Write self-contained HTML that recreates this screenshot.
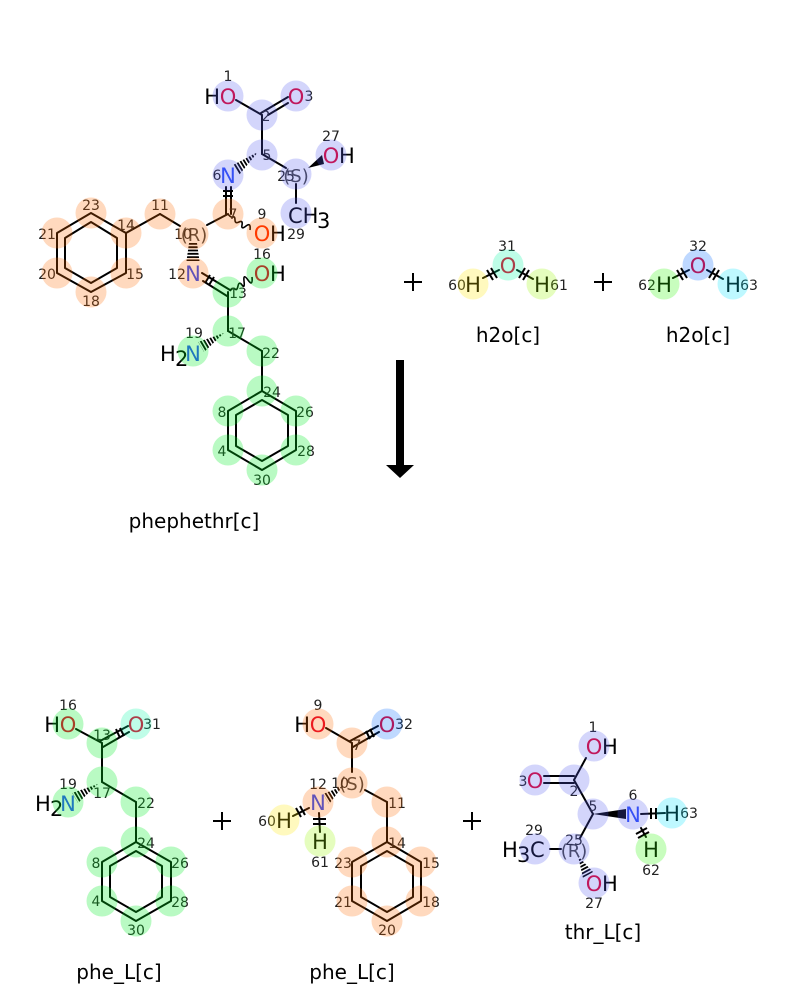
<!DOCTYPE html>
<html>
<head>
<meta charset="utf-8">
<style>
html,body{margin:0;padding:0;background:#fff}
svg{display:block}
text{font-family:"DejaVu Sans","Liberation Sans",sans-serif}
.b line,.b polyline,.b polygon.r{stroke:#000;stroke-width:2;fill:none;stroke-linecap:round;stroke-linejoin:round}
.b path{stroke:#000;stroke-width:1.6;fill:none}
.t line{stroke:#000;stroke-width:2}
.a text{font-size:21px}
.o{fill:#e6002a}
.n{fill:#2c4cf8}
.k{fill:#000}
.i text{font-size:14px;fill:#222;text-anchor:middle}
.s text{font-size:18px;fill:#444;text-anchor:middle}
.m{text-anchor:middle}
.e{text-anchor:end}
.l text{font-size:20px;fill:#000;text-anchor:middle}
</style>
</head>
<body>
<svg width="800" height="1000" viewBox="0 0 800 1000" xmlns="http://www.w3.org/2000/svg">
<defs>
<clipPath id="h1"><polygon points="258,152 239,175 233,165"/></clipPath>
<clipPath id="h2"><polygon points="189,243 197,243 199.5,261 186.5,261"/></clipPath>
<clipPath id="h3"><polygon points="224,333 204,352 198,342"/></clipPath>
<clipPath id="h4"><polygon points="98,784 78,803 72,793"/></clipPath>
<clipPath id="h5"><polygon points="343,786 329,804 323,794"/></clipPath>
<clipPath id="h6"><polygon points="578,856 593,872 583,878"/></clipPath>
</defs>

<!-- bonds -->
<g class="b">
<!-- phephethr -->
<line x1="236" y1="100" x2="262" y2="115"/>
<line x1="261" y1="113" x2="288" y2="97"/>
<line x1="268" y1="115" x2="288" y2="103"/>
<line x1="262" y1="115" x2="262" y2="154"/>
<line x1="262" y1="154" x2="286" y2="168"/>
<line x1="296" y1="184" x2="296" y2="203"/>
<line x1="226" y1="187" x2="226" y2="214"/>
<line x1="231" y1="187" x2="231" y2="214"/>
<line x1="207" y1="225" x2="228" y2="214"/>
<line x1="160" y1="214" x2="180" y2="226"/>
<line x1="126" y1="233" x2="160" y2="214"/>
<polygon class="r" points="126,233 91,213 57,233 57,273 91,292 126,273"/>
<polygon class="r" points="117,238 91,222 65,238 65,268 91,283 117,268"/>
<line x1="202" y1="273" x2="230" y2="290"/>
<line x1="203" y1="281" x2="227" y2="296"/>
<line x1="228" y1="292" x2="228" y2="331"/>
<line x1="228" y1="331" x2="262" y2="351"/>
<line x1="262" y1="351" x2="262" y2="391"/>
<polygon class="r" points="262,391 296,411 296,450 262,470 228,450 228,411"/>
<polygon class="r" points="262,400 288,415 288,446 262,461 236,446 236,415"/>
<path d="M228 214q3 4 5 3t2 3 4 2 3 3 4 1 4 4"/>
<path d="M230 291q3 -4 5 -2t3 -3 4 -1 2 -4 4 -1 4 -3"/>
<!-- water -->
<line x1="483" y1="278" x2="499" y2="270"/>
<line x1="517" y1="270" x2="533" y2="279"/>
<line x1="673" y1="278" x2="689" y2="270"/>
<line x1="707" y1="270" x2="723" y2="279"/>
<!-- phe left -->
<line x1="76" y1="729" x2="102" y2="743"/>
<line x1="100" y1="741" x2="128" y2="726"/>
<line x1="103" y1="747" x2="129" y2="732"/>
<line x1="102" y1="743" x2="102" y2="782"/>
<line x1="102" y1="782" x2="136" y2="802"/>
<line x1="136" y1="802" x2="136" y2="842"/>
<polygon class="r" points="136,842 171,862 171,901 136,921 102,901 102,862"/>
<polygon class="r" points="136,851 162,866 162,897 136,912 110,897 110,866"/>
<!-- phe middle -->
<line x1="326" y1="728" x2="352" y2="743"/>
<line x1="350" y1="741" x2="378" y2="726"/>
<line x1="353" y1="747" x2="379" y2="732"/>
<line x1="352" y1="743" x2="352" y2="772"/>
<line x1="365" y1="790" x2="387" y2="802"/>
<line x1="387" y1="802" x2="387" y2="842"/>
<polygon class="r" points="387,842 421,862 421,901 387,921 352,901 352,862"/>
<polygon class="r" points="387,851 413,866 413,897 387,912 361,897 361,866"/>
<line x1="309" y1="808" x2="293" y2="816"/>
<line x1="319" y1="813" x2="320" y2="832"/>
<!-- thr -->
<line x1="574" y1="780" x2="586" y2="758"/>
<line x1="544" y1="776" x2="574" y2="776"/>
<line x1="544" y1="783" x2="574" y2="783"/>
<line x1="574" y1="780" x2="593" y2="814"/>
<line x1="593" y1="814" x2="580" y2="838"/>
<line x1="550" y1="849" x2="561" y2="849"/>
<line x1="641" y1="814" x2="665" y2="813"/>
<line x1="641" y1="828" x2="646" y2="837"/>
</g>

<!-- ticks -->
<g class="t">
<line x1="223" y1="191" x2="233" y2="191"/><line x1="223" y1="196" x2="233" y2="196"/>
<line x1="205" y1="283" x2="210" y2="275"/><line x1="209" y1="285" x2="214" y2="277"/>
<line x1="487" y1="270" x2="493" y2="280"/><line x1="491" y1="268" x2="497" y2="278"/>
<line x1="525" y1="268" x2="519" y2="278"/><line x1="529" y1="270" x2="523" y2="280"/>
<line x1="677" y1="270" x2="683" y2="280"/><line x1="681" y1="268" x2="687" y2="278"/>
<line x1="715" y1="268" x2="709" y2="278"/><line x1="719" y1="270" x2="713" y2="280"/>
<line x1="116" y1="729" x2="120" y2="738"/><line x1="120" y1="728" x2="124" y2="736"/>
<line x1="366" y1="731" x2="370" y2="739"/><line x1="370" y1="729" x2="374" y2="737"/>
<line x1="296" y1="808" x2="301" y2="817"/><line x1="300" y1="806" x2="305" y2="815"/>
<line x1="313" y1="819" x2="326" y2="819"/><line x1="313" y1="824" x2="326" y2="824"/>
<line x1="651" y1="808" x2="651" y2="819"/><line x1="656" y1="808" x2="656" y2="819"/>
<line x1="636" y1="834" x2="647" y2="828"/><line x1="638" y1="838" x2="649" y2="832"/>
</g>

<!-- solid wedges -->
<polygon points="308,168 322,155 324,164" fill="#000"/>
<polygon points="593,814 626,809 626,819" fill="#000"/>

<!-- hashed wedges -->
<g fill="none" stroke="#000" stroke-width="14" stroke-dasharray="1.8 1.5">
<line x1="258" y1="156.5" x2="236" y2="170" clip-path="url(#h1)"/>
<line x1="193" y1="243" x2="193" y2="261" clip-path="url(#h2)"/>
<line x1="224" y1="333.5" x2="201" y2="347" clip-path="url(#h3)"/>
<line x1="98" y1="784.5" x2="75" y2="798" clip-path="url(#h4)"/>
<line x1="343" y1="788.5" x2="326" y2="799" clip-path="url(#h5)"/>
<line x1="578" y1="856" x2="588" y2="875" clip-path="url(#h6)"/>
</g>

<!-- arrow and plus signs -->
<rect x="396" y="360" width="8" height="106" fill="#000"/>
<polygon points="386,465 414,465 400,478" fill="#000"/>
<g stroke="#000" stroke-width="2">
<line x1="404" y1="282" x2="422" y2="282"/><line x1="413" y1="273" x2="413" y2="291"/>
<line x1="594" y1="282" x2="612" y2="282"/><line x1="603" y1="273" x2="603" y2="291"/>
<line x1="213" y1="821" x2="231" y2="821"/><line x1="222" y1="812" x2="222" y2="830"/>
<line x1="463" y1="821" x2="481" y2="821"/><line x1="472" y1="812" x2="472" y2="830"/>
</g>

<!-- atom labels -->
<g class="a">
<text x="228" y="104" class="o m">O</text><text x="220" y="104" class="k e">H</text>
<text x="296" y="104" class="o m">O</text>
<text x="228" y="183" class="n m">N</text>
<text x="331" y="163" class="o m">O</text><text x="339" y="163" class="k">H</text>
<text x="288" y="223" class="k">CH</text><text x="317" y="228" class="k">3</text>
<text x="262" y="241" style="fill:#ff2a00" class="m">O</text><text x="270" y="241" class="k">H</text>
<text x="193" y="281" class="n m">N</text>
<text x="262" y="281" style="fill:#e6002a" class="m">O</text><text x="270" y="281" class="k">H</text>
<text x="193" y="361" class="n m">N</text><text x="160" y="361" class="k">H</text><text x="175" y="366" class="k">2</text>

<text x="508" y="273" class="o m">O</text><text x="473" y="292" class="k m">H</text><text x="542" y="292" class="k m">H</text>
<text x="698" y="273" class="o m">O</text><text x="664" y="292" class="k m">H</text><text x="733" y="292" class="k m">H</text>

<text x="68" y="732" class="o m">O</text><text x="60" y="732" class="k e">H</text>
<text x="136" y="732" class="o m">O</text>
<text x="68" y="811" class="n m">N</text><text x="35" y="811" class="k">H</text><text x="50" y="816" class="k">2</text>

<text x="318" y="732" class="o m">O</text><text x="310" y="732" class="k e">H</text>
<text x="387" y="732" class="o m">O</text>
<text x="318" y="810" class="n m">N</text>
<text x="284" y="828" class="k m">H</text>
<text x="320" y="849" class="k m">H</text>

<text x="594" y="754" class="o m">O</text><text x="602" y="754" class="k">H</text>
<text x="535" y="788" class="o m">O</text>
<text x="633" y="822" class="n m">N</text>
<text x="672" y="821" class="k m">H</text>
<text x="651" y="857" class="k m">H</text>
<text x="502" y="857" class="k">H</text><text x="517" y="862" class="k">3</text><text x="530" y="857" class="k">C</text>
<text x="594" y="891" class="o m">O</text><text x="602" y="891" class="k">H</text>
</g>

<!-- stereo labels -->
<g class="s">
<text x="296" y="182">(S)</text>
<text x="194" y="241">(R)</text>
<text x="352" y="790">(S)</text>
<text x="574" y="857">(R)</text>
</g>

<!-- index labels -->
<g class="i">
<text x="228" y="81">1</text><text x="266" y="121">2</text><text x="309" y="101">3</text><text x="267" y="160">5</text><text x="217" y="180">6</text><text x="286" y="181">25</text><text x="331" y="141">27</text><text x="296" y="239">29</text><text x="233" y="219">7</text><text x="262" y="219">9</text><text x="183" y="239">10</text><text x="160" y="210">11</text><text x="91" y="210">23</text><text x="126" y="230">14</text><text x="47" y="239">21</text><text x="47" y="279">20</text><text x="91" y="306">18</text><text x="135" y="279">15</text><text x="177" y="279">12</text><text x="262" y="259">16</text><text x="238" y="298">13</text><text x="237" y="338">17</text><text x="194" y="338">19</text><text x="271" y="358">22</text><text x="272" y="397">24</text><text x="222" y="417">8</text><text x="305" y="417">26</text><text x="222" y="456">4</text><text x="306" y="456">28</text><text x="262" y="485">30</text>
<text x="507" y="251">31</text><text x="457" y="290">60</text><text x="559" y="290">61</text>
<text x="698" y="251">32</text><text x="647" y="290">62</text><text x="749" y="290">63</text>
<text x="68" y="710">16</text><text x="102" y="740">13</text><text x="152" y="729">31</text><text x="68" y="789">19</text><text x="102" y="798">17</text><text x="146" y="808">22</text><text x="146" y="848">24</text><text x="96" y="868">8</text><text x="180" y="868">26</text><text x="96" y="906">4</text><text x="180" y="907">28</text><text x="136" y="935">30</text>
<text x="318" y="710">9</text><text x="357" y="750">7</text><text x="404" y="729">32</text><text x="318" y="789">12</text><text x="340" y="788">10</text><text x="397" y="808">11</text><text x="397" y="848">14</text><text x="267" y="826">60</text><text x="320" y="867">61</text><text x="343" y="868">23</text><text x="431" y="868">15</text><text x="343" y="907">21</text><text x="431" y="907">18</text><text x="387" y="935">20</text>
<text x="593" y="732">1</text><text x="523" y="786">3</text><text x="574" y="796">2</text><text x="593" y="811">5</text><text x="633" y="800">6</text><text x="689" y="818">63</text><text x="651" y="875">62</text><text x="534" y="835">29</text><text x="574" y="845">25</text><text x="594" y="908">27</text>
</g>

<!-- names -->
<g class="l">
<text x="194" y="528">phephethr[c]</text>
<text x="508" y="342">h2o[c]</text>
<text x="698" y="342">h2o[c]</text>
<text x="119" y="979">phe_L[c]</text>
<text x="352" y="979">phe_L[c]</text>
<text x="603" y="939">thr_L[c]</text>
</g>

<!-- highlights -->
<g opacity="0.25" fill="#ff6b00">
<circle cx="228" cy="214" r="15.5"/><circle cx="262" cy="233" r="15.5"/><circle cx="193" cy="234" r="15.5"/><circle cx="160" cy="214" r="15.5"/><circle cx="126" cy="233" r="15.5"/><circle cx="91" cy="213" r="15.5"/><circle cx="57" cy="233" r="15.5"/><circle cx="57" cy="273" r="15.5"/><circle cx="91" cy="292" r="15.5"/><circle cx="126" cy="273" r="15.5"/><circle cx="193" cy="273" r="15.5"/>
<circle cx="318" cy="724" r="15.5"/><circle cx="352" cy="743" r="15.5"/><circle cx="352" cy="783" r="15.5"/><circle cx="318" cy="802" r="15.5"/><circle cx="387" cy="802" r="15.5"/><circle cx="387" cy="842" r="15.5"/><circle cx="352" cy="862" r="15.5"/><circle cx="352" cy="901" r="15.5"/><circle cx="387" cy="921" r="15.5"/><circle cx="421" cy="901" r="15.5"/><circle cx="421" cy="862" r="15.5"/>
</g>
<g opacity="0.27" fill="#00f024">
<circle cx="262" cy="273" r="15.5"/><circle cx="228" cy="292" r="15.5"/><circle cx="228" cy="331" r="15.5"/><circle cx="193" cy="351" r="15.5"/><circle cx="262" cy="351" r="15.5"/><circle cx="262" cy="391" r="15.5"/><circle cx="228" cy="411" r="15.5"/><circle cx="296" cy="411" r="15.5"/><circle cx="228" cy="450" r="15.5"/><circle cx="296" cy="450" r="15.5"/><circle cx="262" cy="470" r="15.5"/>
<circle cx="68" cy="724" r="15.5"/><circle cx="102" cy="743" r="15.5"/><circle cx="102" cy="782" r="15.5"/><circle cx="68" cy="802" r="15.5"/><circle cx="136" cy="802" r="15.5"/><circle cx="136" cy="842" r="15.5"/><circle cx="102" cy="862" r="15.5"/><circle cx="102" cy="901" r="15.5"/><circle cx="136" cy="921" r="15.5"/><circle cx="171" cy="901" r="15.5"/><circle cx="171" cy="862" r="15.5"/>
</g>
<g opacity="0.25" fill="#545cf0">
<circle cx="228" cy="96" r="15.5"/><circle cx="262" cy="115" r="15.5"/><circle cx="296" cy="96" r="15.5"/><circle cx="262" cy="155" r="15.5"/><circle cx="228" cy="175" r="15.5"/><circle cx="296" cy="174" r="15.5"/><circle cx="331" cy="155" r="15.5"/><circle cx="296" cy="213" r="15.5"/>
<circle cx="594" cy="746" r="15.5"/><circle cx="574" cy="780" r="15.5"/><circle cx="535" cy="780" r="15.5"/><circle cx="593" cy="814" r="15.5"/><circle cx="633" cy="814" r="15.5"/><circle cx="574" cy="849" r="15.5"/><circle cx="535" cy="849" r="15.5"/><circle cx="594" cy="883" r="15.5"/>
</g>
<g opacity="0.25">
<circle cx="508" cy="265" r="15.5" fill="#00f8a4"/>
<circle cx="136" cy="724" r="15.5" fill="#00f8a4"/>
<circle cx="473" cy="284" r="15.5" fill="#ffe800"/>
<circle cx="284" cy="820" r="15.5" fill="#ffe800"/>
<circle cx="542" cy="284" r="15.5" fill="#9cf800"/>
<circle cx="320" cy="841" r="15.5" fill="#9cf800"/>
<circle cx="698" cy="265" r="15.5" fill="#0068ff"/>
<circle cx="387" cy="724" r="15.5" fill="#0068ff"/>
<circle cx="664" cy="284" r="15.5" fill="#28f800"/>
<circle cx="651" cy="849" r="15.5" fill="#28f800"/>
<circle cx="733" cy="284" r="15.5" fill="#00e4ff"/>
<circle cx="672" cy="813" r="15.5" fill="#00e4ff"/>
</g>
</svg>
</body>
</html>
